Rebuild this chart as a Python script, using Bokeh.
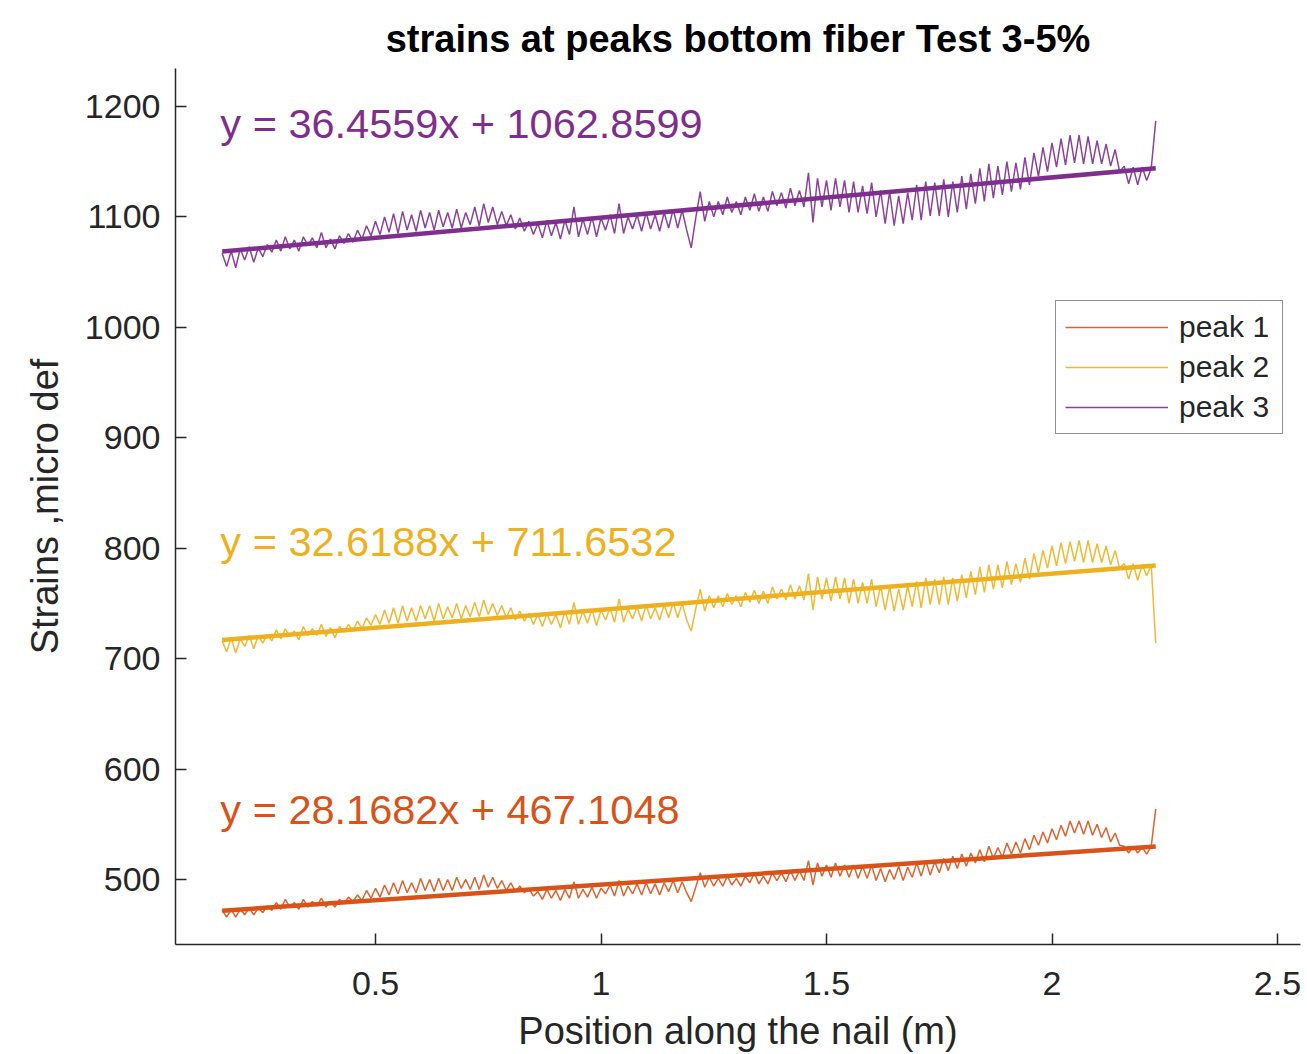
import numpy as np
from bokeh.plotting import figure
from bokeh.models import (Range1d, FixedTicker, CustomJSTickFormatter, Legend,
                          LegendItem, Label, Title)
from bokeh.embed import file_html
from bokeh.resources import INLINE

# Gauge positions along the nail: evenly spaced readings (m)
POSITION_START = 0.16
POSITION_STEP = 0.01

# Strain at each gauge position (micro def), one list per peak
peak1 = [472, 466, 473, 466, 473, 468, 474, 468, 474, 470,
         476, 472, 479, 473, 482, 475, 479, 473, 482, 475,
         480, 476, 483, 475, 480, 475, 482, 478, 484, 480,
         486, 481, 490, 483, 492, 484, 495, 486, 497, 487,
         499, 488, 497, 488, 501, 490, 500, 489, 501, 490,
         500, 490, 502, 492, 500, 491, 502, 491, 504, 493,
         502, 492, 499, 490, 497, 489, 494, 488, 492, 485,
         489, 482, 491, 483, 490, 481, 491, 483, 498, 483,
         491, 484, 493, 483, 492, 487, 495, 485, 499, 485,
         494, 487, 496, 486, 497, 487, 496, 486, 497, 489,
         499, 488, 498, 488, 480, 493, 506, 493, 502, 494,
         501, 494, 503, 495, 501, 494, 503, 497, 506, 496,
         503, 496, 506, 499, 506, 498, 508, 499, 508, 499,
         517, 495, 515, 503, 513, 502, 515, 503, 513, 502,
         513, 501, 512, 501, 513, 499, 510, 498, 509, 500,
         512, 499, 511, 502, 515, 503, 517, 504, 516, 506,
         519, 508, 521, 510, 523, 512, 524, 515, 527, 516,
         530, 519, 529, 520, 533, 523, 534, 524, 537, 527,
         540, 531, 543, 533, 546, 536, 549, 539, 553, 542,
         553, 541, 553, 540, 550, 538, 547, 534, 542, 531,
         530, 524, 530, 524, 529, 523, 530, 564]

peak2 = [716, 706, 719, 705, 718, 711, 721, 709, 721, 714,
         722, 716, 726, 718, 727, 720, 725, 717, 729, 721,
         727, 721, 731, 720, 728, 719, 729, 724, 731, 725,
         734, 727, 737, 730, 740, 731, 744, 732, 746, 732,
         748, 734, 746, 734, 748, 736, 748, 734, 750, 736,
         747, 737, 750, 736, 748, 738, 751, 738, 753, 740,
         750, 739, 748, 737, 746, 735, 743, 734, 741, 731,
         740, 729, 741, 731, 740, 728, 743, 731, 751, 731,
         743, 732, 745, 730, 744, 735, 746, 733, 754, 733,
         745, 736, 747, 734, 749, 736, 746, 735, 749, 737,
         751, 737, 750, 735, 725, 745, 763, 743, 757, 746,
         757, 747, 759, 749, 757, 747, 760, 751, 762, 750,
         761, 750, 765, 754, 763, 753, 767, 754, 766, 753,
         777, 744, 774, 754, 773, 752, 774, 754, 773, 750,
         772, 750, 769, 750, 772, 747, 766, 744, 765, 743,
         763, 744, 766, 747, 770, 746, 773, 749, 772, 749,
         774, 749, 773, 752, 776, 755, 779, 758, 783, 760,
         785, 763, 785, 764, 788, 767, 786, 769, 791, 772,
         795, 778, 798, 782, 802, 784, 805, 786, 806, 788,
         807, 787, 807, 787, 804, 787, 802, 785, 798, 782,
         786, 772, 786, 771, 785, 775, 785, 714]

peak3 = [1067, 1055, 1069, 1054, 1071, 1061, 1073, 1059, 1072, 1064,
         1075, 1068, 1079, 1069, 1082, 1071, 1079, 1069, 1082, 1074,
         1081, 1072, 1086, 1072, 1080, 1071, 1083, 1076, 1085, 1077,
         1088, 1080, 1092, 1083, 1096, 1084, 1100, 1086, 1103, 1085,
         1105, 1088, 1102, 1087, 1106, 1090, 1104, 1088, 1106, 1091,
         1104, 1090, 1107, 1090, 1104, 1093, 1109, 1092, 1112, 1095,
         1109, 1093, 1105, 1092, 1102, 1089, 1099, 1087, 1096, 1084,
         1094, 1081, 1097, 1083, 1095, 1080, 1097, 1084, 1109, 1082,
         1098, 1084, 1100, 1082, 1099, 1088, 1102, 1085, 1112, 1085,
         1100, 1089, 1102, 1087, 1104, 1089, 1102, 1087, 1104, 1090,
         1107, 1090, 1106, 1088, 1072, 1099, 1123, 1096, 1114, 1100,
         1114, 1102, 1118, 1104, 1114, 1102, 1118, 1106, 1121, 1105,
         1118, 1105, 1123, 1110, 1122, 1108, 1126, 1110, 1124, 1109,
         1140, 1095, 1135, 1109, 1133, 1106, 1135, 1109, 1133, 1104,
         1132, 1104, 1128, 1103, 1131, 1100, 1124, 1094, 1123, 1092,
         1119, 1094, 1122, 1097, 1129, 1097, 1132, 1101, 1131, 1101,
         1134, 1100, 1132, 1104, 1137, 1107, 1139, 1112, 1144, 1114,
         1148, 1117, 1146, 1120, 1150, 1123, 1149, 1125, 1154, 1129,
         1158, 1137, 1163, 1141, 1167, 1145, 1171, 1147, 1174, 1149,
         1174, 1148, 1173, 1148, 1169, 1148, 1166, 1146, 1161, 1141,
         1146, 1130, 1145, 1129, 1145, 1133, 1144, 1187]

series_names = ["peak 1", "peak 2", "peak 3"]
series_values = [peak1, peak2, peak3]

# Linear fits y = slope * x + intercept
fit_slopes = [28.1682, 32.6188, 36.4559]
fit_intercepts = [467.1048, 711.6532, 1062.8599]

x_ticks = [0.5, 1, 1.5, 2, 2.5]
y_ticks = [500, 600, 700, 800, 900, 1000, 1100, 1200]

colors = ["#D95319", "#EDB120", "#7E2F8E"]
FONT = "Liberation Sans"
AX = "#262626"

p = figure(width=1307, height=1054, output_backend="svg", toolbar_location=None,
           x_range=Range1d(0.0565, 2.551), y_range=Range1d(441.1, 1234.4),
           min_border_left=175, min_border_right=7, min_border_top=68,
           min_border_bottom=110)
p.outline_line_color = None
p.grid.visible = False
p.background_fill_color = "white"
p.border_fill_color = "white"

fmt = CustomJSTickFormatter(code="return String(tick);")
for ax, ticks in ((p.xaxis[0], x_ticks), (p.yaxis[0], y_ticks)):
    ax.ticker = FixedTicker(ticks=ticks)
    ax.formatter = fmt
    ax.axis_line_color = AX
    ax.axis_line_width = 1.5
    ax.major_tick_line_color = AX
    ax.major_tick_line_width = 1.5
    ax.major_tick_in = 11
    ax.major_tick_out = 0
    ax.minor_tick_line_color = None
    ax.major_label_text_font = FONT
    ax.major_label_text_font_size = "34px"
    ax.major_label_text_color = AX
    ax.axis_label_text_font = FONT
    ax.axis_label_text_font_size = "38px"
    ax.axis_label_text_font_style = "normal"
    ax.axis_label_text_color = AX

p.xaxis.axis_label = "Position along the nail (m)"
p.yaxis.axis_label = "Strains ,micro def"
p.xaxis.major_label_standoff = 27
p.xaxis.axis_label_standoff = 12
p.yaxis.major_label_standoff = 15
p.yaxis.axis_label_standoff = 16

title = Title(text="strains at peaks bottom fiber Test 3-5%", align="center",
              text_font=FONT, text_font_size="38px", text_font_style="bold",
              text_color="black", standoff=17)
p.add_layout(title, "above")

legend_items = []
for name, vals, slope, icpt, col in zip(series_names, series_values,
                                        fit_slopes, fit_intercepts, colors):
    xs = POSITION_START + POSITION_STEP * np.arange(len(vals))
    r = p.line(xs, vals, line_color=col, line_width=1.5, line_alpha=0.9)
    legend_items.append(LegendItem(label=name, renderers=[r]))

for vals, slope, icpt, col in zip(series_values, fit_slopes, fit_intercepts, colors):
    xs = POSITION_START + POSITION_STEP * np.arange(len(vals))
    fx = np.array([xs[0], xs[-1]])
    p.line(fx, slope * fx + icpt, line_color=col, line_width=4.5)

# Fit equations
eq_y = [563.4, 806.3, 1184.6]
for slope, icpt, col, ey in zip(fit_slopes, fit_intercepts, colors, eq_y):
    p.add_layout(Label(x=0.156, y=ey, text=f"y = {slope:.4f}x + {icpt:.4f}",
                       text_font=FONT, text_font_size="41.5px", text_color=col,
                       text_baseline="middle", text_align="left"))

legend = Legend(items=legend_items, location=(880, 510),
                label_text_font=FONT, label_text_font_size="30px",
                label_text_color=AX, glyph_width=103, glyph_height=30,
                label_height=30, label_width=94, spacing=6, padding=9,
                label_standoff=11, margin=0, border_line_color=AX,
                border_line_width=1.5, background_fill_color="white",
                background_fill_alpha=1.0)
p.add_layout(legend, "center")

open("out.html", "w").write(file_html(p, INLINE))
